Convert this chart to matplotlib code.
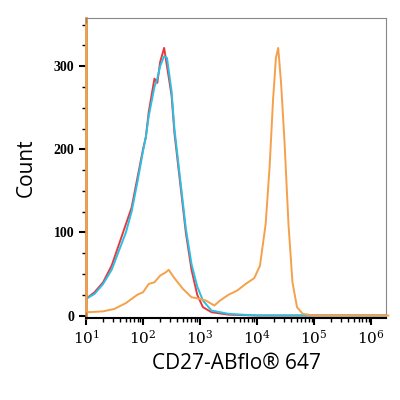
import matplotlib
matplotlib.use("Agg")
import matplotlib.pyplot as plt
import numpy as np
from matplotlib.ticker import LogLocator, FixedLocator
from matplotlib.transforms import ScaledTranslation

plt.rcParams['mathtext.fontset'] = 'dejavuserif'

red_logx = [1.0, 1.15, 1.3, 1.45, 1.6, 1.7, 1.8, 1.9, 2.0, 2.05, 2.1, 2.2, 2.25, 2.3, 2.37, 2.42, 2.5, 2.55, 2.65, 2.75, 2.85, 2.95, 3.05, 3.2, 3.5, 4.0, 6.3]
red_cnt = [20, 28, 40, 60, 90, 110, 130, 165, 200, 215, 245, 285, 280, 305, 322, 300, 265, 220, 160, 100, 55, 25, 10, 4, 1, 0, 0]
blue_logx = [1.0, 1.15, 1.3, 1.45, 1.6, 1.7, 1.8, 1.9, 2.0, 2.05, 2.1, 2.2, 2.25, 2.3, 2.37, 2.42, 2.5, 2.55, 2.65, 2.75, 2.85, 2.95, 3.05, 3.2, 3.5, 4.0, 6.3]
blue_cnt = [20, 26, 38, 55, 82, 100, 125, 160, 198, 215, 240, 275, 285, 300, 312, 310, 270, 225, 165, 105, 62, 35, 18, 6, 2, 0, 0]
orange_logx = [1.004, 1.01, 1.05, 1.3, 1.5, 1.7, 1.8, 1.9, 2.0, 2.1, 2.2, 2.3, 2.4, 2.45, 2.55, 2.7, 2.85, 3.0, 3.1, 3.25, 3.35, 3.5, 3.65, 3.8, 3.95, 4.05, 4.15, 4.22, 4.28, 4.33, 4.37, 4.42, 4.48, 4.55, 4.62, 4.7, 4.8, 5.0, 6.3]
orange_cnt = [350, 5, 4, 5, 8, 15, 20, 25, 28, 38, 40, 48, 52, 55, 45, 32, 22, 20, 18, 12, 18, 25, 30, 38, 45, 60, 110, 180, 260, 310, 322, 280, 210, 110, 40, 10, 2, 0, 0]

fig = plt.figure(figsize=(4, 4), dpi=100)
ax = fig.add_axes([0.215, 0.205, 0.75, 0.75])
ax.plot(10**np.array(orange_logx), orange_cnt, color='#f5a04a', lw=1.4, clip_on=False, zorder=3)
ax.plot(10**np.array(red_logx), red_cnt, color='#e8383d', lw=1.4)
ax.plot(10**np.array(blue_logx), blue_cnt, color='#29c0e6', lw=1.4)
ax.set_xscale('log')
ax.set_xlim(10, 10**6.26)
ax.set_ylim(-3, 358)
ax.xaxis.set_major_locator(FixedLocator([10**k for k in range(1, 7)]))
ax.xaxis.set_minor_locator(LogLocator(base=10, subs=np.arange(2, 10)))
ax.set_xticklabels([r'$10^{%d}$' % k for k in range(1, 7)], fontsize=11)
off = ScaledTranslation(6/72, 0, fig.dpi_scale_trans)
for lab in ax.get_xticklabels():
    lab.set_transform(lab.get_transform() + off)
ax.set_yticks([0, 100, 200, 300])
ax.set_yticks(np.arange(0, 351, 25), minor=True)
ax.set_yticklabels(['0', '100', '200', '300'], fontfamily='Liberation Serif', fontweight='bold', fontsize=10)
ax.tick_params(axis='both', which='major', length=5, width=1.5, color='black')
ax.tick_params(axis='both', which='minor', length=3, width=1, color='black')
ax.tick_params(axis='x', pad=3)
for s in ax.spines.values():
    s.set_color('#888888')
ax.spines['left'].set_color('#c07a35')
ax.spines['left'].set_linewidth(1.8)
ax.spines['bottom'].set_color('black')
ax.spines['bottom'].set_linewidth(1.5)
ax.set_xlabel('CD27-ABflo® 647', fontfamily='Open Sans', fontsize=15, labelpad=4)
ax.set_ylabel('Count', fontfamily='Open Sans', fontsize=15, labelpad=12)
fig.savefig('out.png', dpi=100)
